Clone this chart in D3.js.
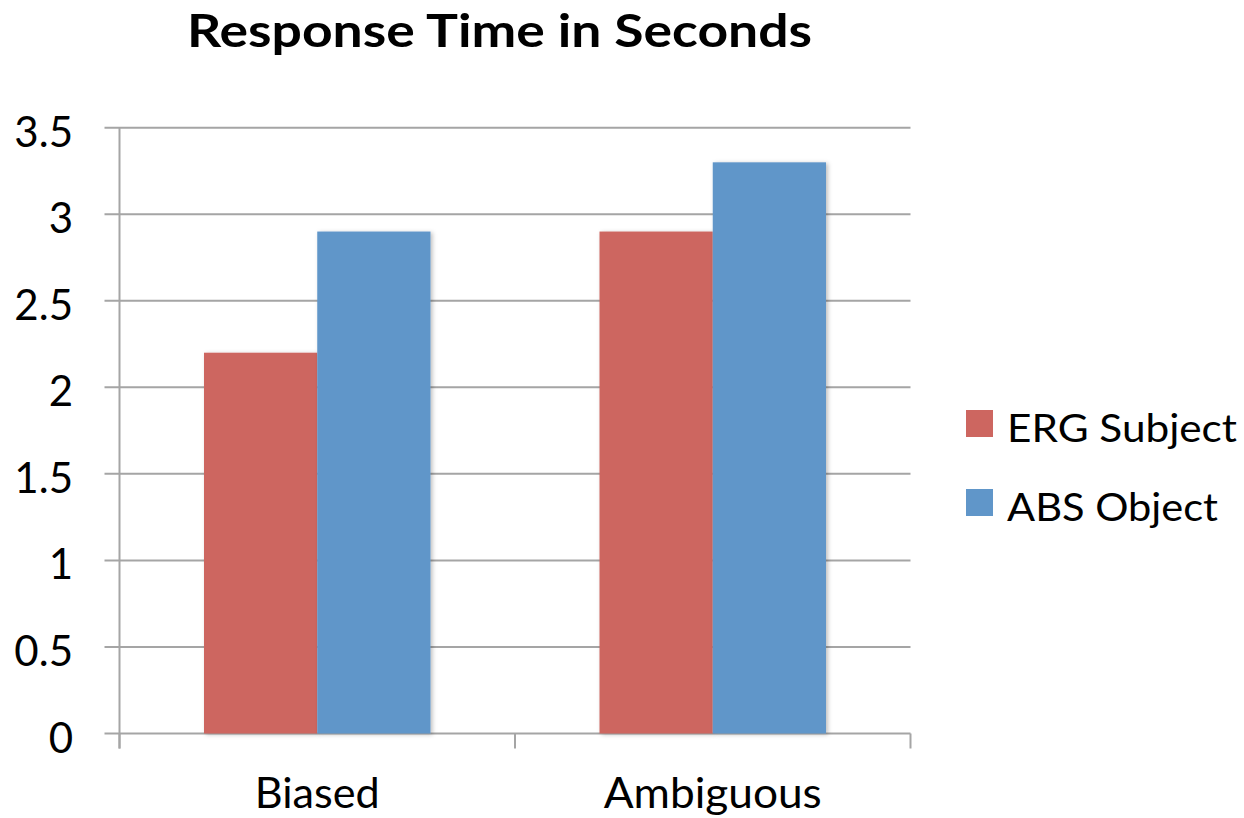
<!DOCTYPE html>
<html><head><meta charset="utf-8">
<script src="https://cdn.jsdelivr.net/npm/d3@7"></script>
<style>body{margin:0;background:#fff;} svg{display:block;}</style>
</head><body>
<script>
const categories = ["Biased", "Ambiguous"];
const seriesNames = ["ERG Subject", "ABS Object"];
const ergSubject = [2.2, 2.9];
const absObject = [2.9, 3.3];
const yTicks = [0, 0.5, 1, 1.5, 2, 2.5, 3, 3.5];
const colors = ["#CD6660", "#6096C9"];

(function(){
const W = 1244, H = 818;
const font = "Lato, 'Open Sans', sans-serif";
const svg = d3.select("body").append("svg").attr("width", W).attr("height", H);

const defs = svg.append("defs");
const f = defs.append("filter").attr("id","sh").attr("x","-10%").attr("y","-10%").attr("width","130%").attr("height","130%");
f.append("feDropShadow").attr("dx",2).attr("dy",1).attr("stdDeviation",2).attr("flood-color","#000").attr("flood-opacity",0.25);

const pl = 119.5, pr = 910.5, pt = 127.7, pb = 733.5;
const y = d3.scaleLinear().domain([0, 3.5]).range([pb, pt]);
const x0 = d3.scaleBand().domain(categories).range([pl, pr]).paddingInner(0).paddingOuter(0);
const groupPad = 84.5;
const x1 = d3.scaleBand().domain(seriesNames).range([groupPad, x0.bandwidth() - groupPad]);

const grid = "#A5A5A5";
svg.append("g").selectAll("line").data(yTicks).join("line")
  .attr("x1", pl - 15).attr("x2", pr).attr("y1", d => y(d)).attr("y2", d => y(d))
  .attr("stroke", grid).attr("stroke-width", 2);
svg.append("line").attr("x1", pl).attr("x2", pl).attr("y1", pt).attr("y2", pb + 15)
  .attr("stroke", grid).attr("stroke-width", 2);
const xb = [pl, pl + x0.bandwidth(), pr];
svg.append("g").selectAll("line").data(xb).join("line")
  .attr("x1", d => d).attr("x2", d => d).attr("y1", pb).attr("y2", pb + 15)
  .attr("stroke", grid).attr("stroke-width", 2);

svg.append("g").selectAll("text").data(yTicks).join("text")
  .attr("x", 73).attr("y", d => y(d) + 19)
  .attr("text-anchor", "end").attr("font-family", font).attr("font-size", 42)
  .attr("fill", "#000").text(d => d);

const rows = categories.map((c, i) => ({cat: c, vals: [ergSubject[i], absObject[i]]}));
const g = svg.append("g").selectAll("g").data(rows).join("g")
  .attr("transform", d => `translate(${x0(d.cat)},0)`);
g.selectAll("rect").data(d => d.vals.map((v, j) => ({v, s: seriesNames[j], j})))
  .join("rect")
  .attr("x", d => x1(d.s)).attr("width", x1.bandwidth())
  .attr("y", d => y(d.v)).attr("height", d => pb - y(d.v))
  .attr("fill", d => colors[d.j]).attr("filter", "url(#sh)");

const catLen = {"Biased": 125, "Ambiguous": 218};
svg.append("g").selectAll("text").data(categories).join("text")
  .attr("x", d => x0(d) + x0.bandwidth() / 2).attr("y", 808)
  .attr("text-anchor", "middle").attr("font-family", font).attr("font-size", 42)
  .attr("textLength", d => catLen[d]).attr("lengthAdjust", "spacingAndGlyphs")
  .attr("fill", "#000").text(d => d);

svg.append("text").attr("x", 499.5).attr("y", 47).attr("text-anchor", "middle")
  .attr("font-family", font).attr("font-weight", "bold").attr("font-size", 45)
  .attr("textLength", 625).attr("lengthAdjust", "spacingAndGlyphs")
  .text("Response Time in Seconds");

const legLen = [230, 211];
const lg = svg.append("g").selectAll("g").data(seriesNames).join("g")
  .attr("transform", (d, i) => `translate(966,${410 + i * 79})`);
lg.append("rect").attr("width", 27).attr("height", 27).attr("fill", (d, i) => colors[i]);
lg.append("text").attr("x", 41).attr("y", 32).attr("font-family", font).attr("font-size", 38)
  .attr("textLength", (d, i) => legLen[i]).attr("lengthAdjust", "spacingAndGlyphs")
  .attr("fill", "#000").text(d => d);
})();
</script>
</body></html>
